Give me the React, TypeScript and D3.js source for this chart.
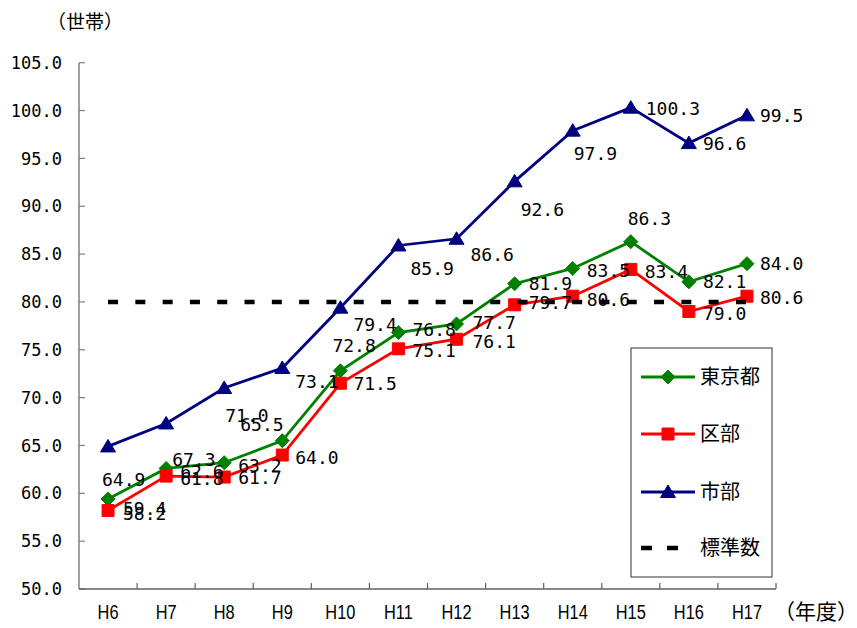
import React from "react";
import * as d3 from "d3";

const categories = ["H6", "H7", "H8", "H9", "H10", "H11", "H12", "H13", "H14", "H15", "H16", "H17"];
const tokyoValues = [59.4, 62.6, 63.2, 65.5, 72.8, 76.8, 77.7, 81.9, 83.5, 86.3, 82.1, 84.0];
const kubuValues = [58.2, 61.8, 61.7, 64.0, 71.5, 75.1, 76.1, 79.7, 80.6, 83.4, 79.0, 80.6];
const shibuValues = [64.9, 67.3, 71.0, 73.1, 79.4, 85.9, 86.6, 92.6, 97.9, 100.3, 96.6, 99.5];
const standardValue = 80;
const yTicks = [50, 55, 60, 65, 70, 75, 80, 85, 90, 95, 100, 105];
const seriesNames = ["東京都", "区部", "市部", "標準数"];

// label offsets (dx to label's left edge, dy to label's vertical center), relative to point
const tokyoLabelOffsets: [number, number][] = [
  [15, 9], [14, 3], [14, 3], [-42, -16], [-8, -25], [14, -3], [16, -1], [14, 0], [14, 2], [-3, -23], [14, 0], [13, 0],
];
const kubuLabelOffsets: [number, number][] = [
  [15, 3], [14, 2], [14, 0], [13, 2], [13, 0], [14, 2], [16, 2], [14, -2], [14, 3], [14, 2], [14, 2], [13, 1],
];
const shibuLabelOffsets: [number, number][] = [
  [-6, 33], [6, 36], [1, 27], [13, 14], [13, 17], [12, 23], [14, 16], [6, 28], [1, 23], [15, 1], [14, 0], [13, 0],
];

const W = 857;
const H = 628;

type Marker = "diamond" | "square" | "triangle";

function markerPath(m: Marker): string {
  if (m === "diamond") return "M0,-7L7,0L0,7L-7,0Z";
  if (m === "square") return "M-6,-6L6,-6L6,6L-6,6Z";
  return "M0,-7L7.5,5.5L-7.5,5.5Z";
}

export default function App() {
  const x = d3.scaleBand<string>().domain(categories).range([79, 776]);
  const y = d3.scaleLinear().domain([50, 105]).range([589, 62.7]);
  const cx = (c: string) => (x(c) as number) + x.bandwidth() / 2;

  const line = d3
    .line<number>()
    .x((_, i) => cx(categories[i]))
    .y((v) => y(v));

  const series = [
    { name: seriesNames[0], values: tokyoValues, color: "#008000", marker: "diamond" as Marker, offsets: tokyoLabelOffsets },
    { name: seriesNames[1], values: kubuValues, color: "#FF0000", marker: "square" as Marker, offsets: kubuLabelOffsets },
    { name: seriesNames[2], values: shibuValues, color: "#000080", marker: "triangle" as Marker, offsets: shibuLabelOffsets },
  ];

  const numFont = "'DejaVu Sans Mono', monospace";
  const cjkFont = "'Noto Sans CJK JP', sans-serif";

  const x0 = x.range()[0];
  const x1 = x.range()[1];
  const yBottom = y(50);
  const yTop = y(105);

  const legendY = [377, 434, 492, 548];

  return (
    <svg
      width={W}
      height={H}
      viewBox={`0 0 ${W} ${H}`}
      style={{ position: "absolute", left: 0, top: 0, background: "#fff" }}
    >
      <rect x={0} y={0} width={W} height={H} fill="#fff" />
      {/* unit label */}
      <text x={47} y={29} fontFamily={cjkFont} fontSize={19} fill="#000">
        （世帯）
      </text>

      {/* y axis */}
      <line x1={x0} x2={x0} y1={yTop} y2={yBottom} stroke="#808080" strokeWidth={1.5} />
      {yTicks.map((t) => (
        <g key={t}>
          <line x1={x0} x2={x0 + 6} y1={y(t)} y2={y(t)} stroke="#808080" strokeWidth={1.2} />
          <text
            x={62}
            y={y(t)}
            dy="0.36em"
            textAnchor="end"
            fontFamily={numFont}
            fontSize={17}
            fill="#000"
          >
            {t.toFixed(1)}
          </text>
        </g>
      ))}

      {/* x axis */}
      <line x1={x0} x2={x1} y1={yBottom} y2={yBottom} stroke="#606060" strokeWidth={1.5} />
      {categories.map((c) => (
        <g key={c}>
          <line
            x1={(x(c) as number) + x.step()}
            x2={(x(c) as number) + x.step()}
            y1={yBottom}
            y2={yBottom - 6}
            stroke="#606060"
            strokeWidth={1.2}
          />
          <text
            transform={`translate(${cx(c)},${yBottom + 30}) scale(0.78,1)`}
            textAnchor="middle"
            fontFamily="'Liberation Sans', Arial, sans-serif"
            fontSize={21}
            fill="#000"
          >
            {c}
          </text>
        </g>
      ))}
      <text x={774} y={yBottom + 30} fontFamily={cjkFont} fontSize={21} fill="#000">
        （年度）
      </text>

      {/* series lines & markers */}
      {series.map((s) => (
        <g key={s.name}>
          <path d={line(s.values) || ""} fill="none" stroke={s.color} strokeWidth={2.8} />
          {s.values.map((v, i) => (
            <path
              key={i}
              d={markerPath(s.marker)}
              transform={`translate(${cx(categories[i])},${y(v)})`}
              fill={s.color}
              stroke={s.color}
              strokeWidth={1}
            />
          ))}
        </g>
      ))}

      {/* standard line */}
      <line
        x1={cx(categories[0])}
        x2={cx(categories[categories.length - 1])}
        y1={y(standardValue)}
        y2={y(standardValue)}
        stroke="#000"
        strokeWidth={4.5}
        strokeDasharray="10,17.3"
      />

      {/* data labels */}
      {series.map((s) => (
        <g key={s.name + "-labels"}>
          {s.values.map((v, i) => (
            <text
              key={i}
              x={cx(categories[i]) + s.offsets[i][0]}
              y={y(v) + s.offsets[i][1]}
              dy="0.36em"
              fontFamily={numFont}
              fontSize={18}
              fill="#000"
            >
              {v.toFixed(1)}
            </text>
          ))}
        </g>
      ))}

      {/* legend */}
      <rect x={631} y={348} width={141} height={229} fill="#fff" stroke="#333" strokeWidth={1} />
      {series.map((s, i) => (
        <g key={s.name + "-legend"}>
          <line x1={641} x2={695} y1={legendY[i]} y2={legendY[i]} stroke={s.color} strokeWidth={2.8} />
          <path
            d={markerPath(s.marker)}
            transform={`translate(668,${legendY[i]})`}
            fill={s.color}
            stroke={s.color}
            strokeWidth={1}
          />
          <text x={700} y={legendY[i]} dy="0.36em" fontFamily={cjkFont} fontSize={20} fill="#000">
            {s.name}
          </text>
        </g>
      ))}
      <line
        x1={641}
        x2={680}
        y1={legendY[3]}
        y2={legendY[3]}
        stroke="#000"
        strokeWidth={4.5}
        strokeDasharray="11,15"
      />
      <text x={700} y={legendY[3]} dy="0.36em" fontFamily={cjkFont} fontSize={20} fill="#000">
        {seriesNames[3]}
      </text>
    </svg>
  );
}
